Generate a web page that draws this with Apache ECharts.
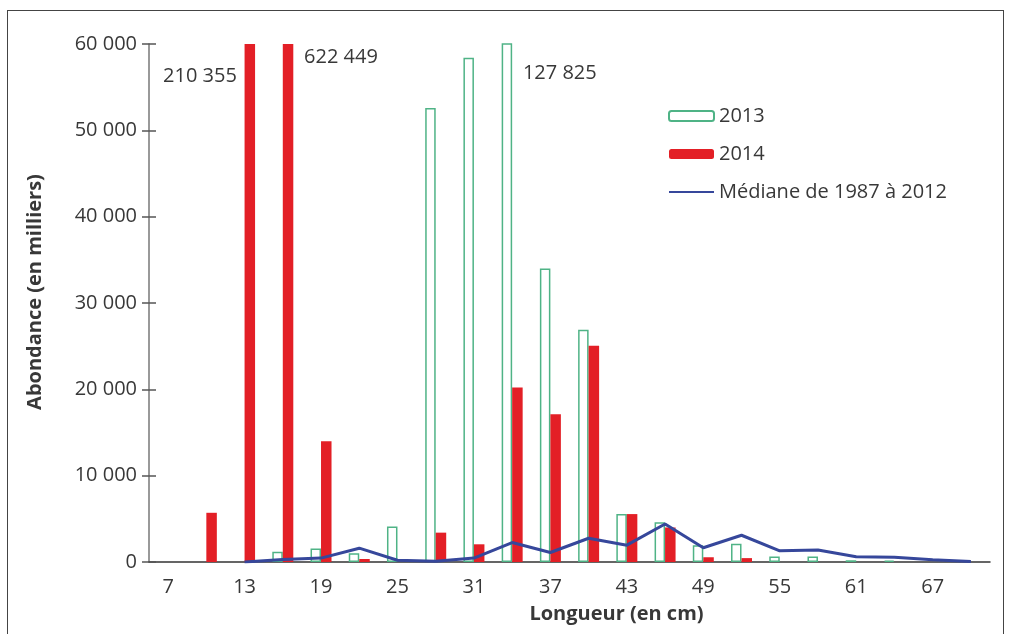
<!DOCTYPE html>
<html>
<head>
<meta charset="utf-8">
<script src="https://cdn.jsdelivr.net/npm/echarts@6/dist/echarts.min.js"></script>
<style>
html,body{margin:0;padding:0;background:#fff;}
#chart{position:absolute;left:0;top:0;width:1012px;height:634px;}
#frame{position:absolute;left:7px;top:10px;width:995px;height:640px;border:1.5px solid #444;pointer-events:none;}
</style>
</head>
<body>
<div id="chart"></div>
<div id="frame"></div>
<script>
const categories = ['7','10','13','16','19','22','25','28','31','34','37','40','43','46','49','52','55','58','61','64','67','70'];
const abund2013 = [null,null,null,1200,1550,1000,4100,52600,58400,127825,34000,26900,5550,4600,1950,2100,650,650,200,150,null,null];
const abund2014 = [null,5700,210355,622449,14000,350,null,3400,2050,20200,17100,25050,5550,4000,550,450,null,null,null,null,null,null];
const median8712 = [null,null,0,300,450,1600,200,100,450,2250,1100,2750,1950,4400,1650,3100,1300,1400,600,550,250,50];
const yMax = 60000, yStep = 10000;

const fmt = v => String(v).replace(/\B(?=(\d{3})+(?!\d))/g, ' ');
const FONT = '"Open Sans", sans-serif';
const TXT = '#383838';
const GREEN = '#4fb386', RED = '#e31f26', BLUE = '#36479b';

const chart = echarts.init(document.getElementById('chart'), null, {renderer:'canvas'});
chart.setOption({
  animation:false,
  textStyle:{fontFamily:FONT},
  grid:{left:149,right:22,top:44,bottom:72,containLabel:false},
  legend:{
    orient:'vertical', left:668, top:106, itemWidth:45, itemHeight:10, itemGap:18, padding:0,
    textStyle:{fontSize:20,color:TXT,fontFamily:FONT},
    data:['2013','2014',{
      name:'Médiane de 1987 à 2012',
      itemStyle:{color:'rgba(0,0,0,0)',borderColor:'rgba(0,0,0,0)',borderWidth:0,opacity:0},
      lineStyle:{color:BLUE,width:2}
    }]
  },
  xAxis:[{
    type:'category', data:categories, boundaryGap:true, position:'bottom',
    axisLine:{lineStyle:{color:'#333',width:1.5}},
    axisTick:{interval:0,length:7,lineStyle:{color:'#333',width:1.5}},
    axisLabel:{interval:1,fontSize:20,color:TXT,margin:15,fontFamily:FONT},
    name:'Longueur (en cm)', nameLocation:'middle', nameGap:42,
    nameTextStyle:{fontSize:20,fontWeight:'bold',color:TXT,padding:[0,0,0,94],fontFamily:FONT}
  },{
    type:'category', data:categories, boundaryGap:true, position:'bottom',
    axisLine:{show:false},
    axisTick:{inside:true,interval:0,length:7,lineStyle:{color:'#333',width:1.5}},
    axisLabel:{show:false}
  }],
  yAxis:[{
    type:'value', min:0, max:yMax, interval:yStep, position:'left',
    axisLine:{show:true,lineStyle:{color:'#777',width:1.5}},
    axisTick:{show:true,length:7,lineStyle:{color:'#555',width:1.5}},
    splitLine:{show:false},
    axisLabel:{fontSize:20,color:TXT,margin:12,fontFamily:FONT,formatter:v=>fmt(v)},
    name:'Abondance (en milliers)', nameLocation:'middle', nameRotate:90, nameGap:104,
    nameTextStyle:{fontSize:20,fontWeight:'bold',color:TXT,padding:[0,0,0,22],fontFamily:FONT}
  },{
    type:'value', min:0, max:yMax, interval:yStep, position:'left',
    axisLine:{show:false},
    axisTick:{show:true,inside:true,length:7,lineStyle:{color:'#555',width:1.5}},
    splitLine:{show:false},
    axisLabel:{show:false}
  }],
  series:[{
    name:'2013', type:'bar', data:abund2013, barWidth:10.5, barGap:'0%', clip:true,
    itemStyle:{color:'#fff',borderColor:GREEN,borderWidth:1.5},
    markPoint:{
      symbol:'circle', symbolSize:0, silent:true,
      label:{show:true,position:'right',offset:[11,29],fontSize:20,color:TXT,fontFamily:FONT,formatter:'{c}'},
      data:[{coord:['34',yMax], value:fmt(abund2013[9])}]
    }
  },{
    name:'2014', type:'bar', data:abund2014, barWidth:10.5, barGap:'0%', clip:true,
    itemStyle:{color:RED},
    markPoint:{
      symbol:'circle', symbolSize:0, silent:true,
      label:{show:true,fontSize:20,color:TXT,fontFamily:FONT,formatter:'{c}'},
      data:[
        {coord:['13',yMax], value:fmt(abund2014[2]), label:{position:'left',offset:[-8,32]}},
        {coord:['16',yMax], value:fmt(abund2014[3]), label:{position:'right',offset:[11,13]}}
      ]
    }
  },{
    name:'Médiane de 1987 à 2012', type:'line', data:median8712, symbol:'none', showSymbol:false,
    lineStyle:{color:BLUE,width:3}, itemStyle:{color:BLUE}, z:5
  }]
});
</script>
</body>
</html>
